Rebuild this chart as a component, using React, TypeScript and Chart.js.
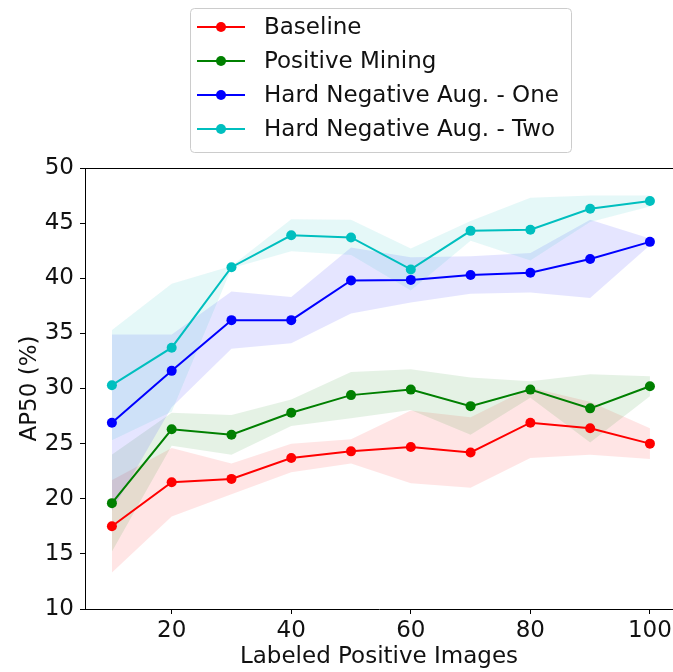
import React, { useEffect, useRef } from "react";
import { Chart, registerables } from "chart.js";

Chart.register(...registerables);

const X_VALUES = [10, 20, 30, 40, 50, 60, 70, 80, 90, 100];
const X_TICKS = [20, 40, 60, 80, 100];

const SERIES_NAMES = ["Baseline", "Positive Mining", "Hard Negative Aug. - One", "Hard Negative Aug. - Two"];
const SERIES_COLORS = ["#ff0000", "#008000", "#0000ff", "#00bfbf"];
const BAND_COLORS = ["rgba(255,0,0,0.1)", "rgba(0,128,0,0.1)", "rgba(0,0,255,0.1)", "rgba(0,191,191,0.1)"];

const baseline = [17.5, 21.5, 21.8, 23.7, 24.3, 24.7, 24.2, 26.9, 26.4, 25.0];
const baselineUpper = [21.7, 24.6, 23.2, 25.0, 25.4, 28.0, 27.4, 30.1, 28.8, 26.4];
const baselineLower = [13.3, 18.4, 20.4, 22.4, 23.2, 21.4, 21.0, 23.7, 24.0, 23.6];

const positiveMining = [19.6, 26.3, 25.8, 27.8, 29.4, 29.9, 28.4, 29.9, 28.2, 30.2];
const positiveUpper = [24.0, 27.8, 27.6, 29.0, 31.5, 31.75, 31.0, 30.65, 31.3, 31.1];
const positiveLower = [15.2, 24.8, 24.0, 26.6, 27.3, 28.05, 25.8, 29.15, 25.1, 29.3];

const hardOne = [26.9, 31.6, 36.2, 36.2, 39.8, 39.85, 40.3, 40.5, 41.75, 43.3];
const hardOneUpper = [34.9, 34.9, 38.8, 38.3, 42.8, 41.9, 42.0, 42.3, 45.3, 43.6];
const hardOneLower = [18.9, 28.3, 33.6, 34.1, 36.8, 37.8, 38.6, 38.7, 38.2, 43.0];

const hardTwo = [30.3, 33.7, 41.0, 43.9, 43.7, 40.8, 44.3, 44.4, 46.3, 47.0];
const hardTwoUpper = [35.3, 39.5, 41.1, 45.35, 45.3, 42.7, 45.2, 47.3, 47.5, 47.5];
const hardTwoLower = [25.3, 27.9, 40.9, 42.45, 42.1, 38.9, 43.4, 41.6, 45.1, 46.5];

const MEANS = [baseline, positiveMining, hardOne, hardTwo];
const UPPERS = [baselineUpper, positiveUpper, hardOneUpper, hardTwoUpper];
const LOWERS = [baselineLower, positiveLower, hardOneLower, hardTwoLower];

const FONT = "'DejaVu Sans', sans-serif";
const FONT_SIZE = 23;

const toPts = (arr: number[]) => arr.map((y, i) => ({ x: X_VALUES[i], y }));

const framePlugin = {
  id: "frameAndLegend",
  afterDraw(chart: any) {
    const { ctx, chartArea } = chart;
    ctx.save();
    // top spine
    ctx.strokeStyle = "#000";
    ctx.lineWidth = 1;
    ctx.beginPath();
    ctx.moveTo(chartArea.left, chartArea.top + 0.5);
    ctx.lineTo(chart.width, chartArea.top + 0.5);
    ctx.stroke();

    // legend
    const bx = 190, by = 8, bw = 381, bh = 144;
    ctx.beginPath();
    ctx.roundRect(bx + 0.5, by + 0.5, bw, bh, 4);
    ctx.fillStyle = "rgba(255,255,255,0.8)";
    ctx.fill();
    ctx.strokeStyle = "#cccccc";
    ctx.lineWidth = 1;
    ctx.stroke();
    ctx.font = `${FONT_SIZE}px ${FONT}`;
    ctx.textBaseline = "middle";
    ctx.textAlign = "left";
    SERIES_NAMES.forEach((name, i) => {
      const y = 27 + 34 * i;
      ctx.strokeStyle = SERIES_COLORS[i];
      ctx.lineWidth = 2;
      ctx.beginPath();
      ctx.moveTo(197, y);
      ctx.lineTo(245, y);
      ctx.stroke();
      ctx.fillStyle = SERIES_COLORS[i];
      ctx.beginPath();
      ctx.arc(221, y, 5, 0, Math.PI * 2);
      ctx.fill();
      ctx.fillStyle = "#111";
      ctx.fillText(name, 264, y + 1);
    });
    ctx.restore();
  },
};

export default function App() {
  const canvasRef = useRef<HTMLCanvasElement | null>(null);

  useEffect(() => {
    document.body.style.margin = "0";
    const canvas = canvasRef.current;
    if (!canvas) return;

    const datasets: any[] = [];
    MEANS.forEach((mean, i) => {
      datasets.push({
        label: SERIES_NAMES[i] + " upper",
        data: toPts(UPPERS[i]),
        borderWidth: 0,
        borderColor: "transparent",
        pointRadius: 0,
        backgroundColor: BAND_COLORS[i],
        fill: "+1",
        order: 20 + (3 - i) * 2,
      });
      datasets.push({
        label: SERIES_NAMES[i] + " lower",
        data: toPts(LOWERS[i]),
        borderWidth: 0,
        borderColor: "transparent",
        pointRadius: 0,
        fill: false,
        order: 21 + (3 - i) * 2,
      });
    });
    MEANS.forEach((mean, i) => {
      datasets.push({
        label: SERIES_NAMES[i],
        data: toPts(mean),
        borderColor: SERIES_COLORS[i],
        backgroundColor: SERIES_COLORS[i],
        borderWidth: 2,
        pointRadius: 5,
        pointBorderWidth: 0,
        pointBackgroundColor: SERIES_COLORS[i],
        fill: false,
        tension: 0,
        order: 3 - i,
      });
    });

    const chart = new Chart(canvas, {
      type: "line",
      data: { datasets },
      options: {
        animation: false,
        responsive: false,
        devicePixelRatio: 1,
        layout: { autoPadding: false, padding: { top: 168, right: 0, bottom: 0, left: 0 } },
        plugins: {
          legend: { display: false },
          tooltip: { enabled: false },
        },
        scales: {
          x: {
            type: "linear",
            min: 5.5,
            max: 103.86,
            afterBuildTicks: (scale: any) => {
              scale.ticks = X_TICKS.map((v) => ({ value: v }));
            },
            afterFit: (scale: any) => {
              scale.height = 63;
              scale.paddingLeft = 0;
              scale.paddingRight = 0;
            },
            grid: {
              drawOnChartArea: false,
              drawTicks: true,
              tickLength: 5,
              tickColor: "#000",
              tickWidth: 1,
            },
            border: { display: true, color: "#000", width: 1 },
            ticks: {
              color: "#111",
              font: { family: FONT, size: FONT_SIZE },
              padding: 3,
              maxRotation: 0,
              autoSkip: false,
            },
            title: {
              display: true,
              text: "Labeled Positive Images",
              color: "#111",
              font: { family: FONT, size: FONT_SIZE },
              padding: { top: 0, bottom: 1 },
            },
          },
          y: {
            type: "linear",
            min: 10,
            max: 50,
            afterFit: (scale: any) => {
              scale.width = 85;
              scale.paddingTop = 0;
              scale.paddingBottom = 0;
            },
            grid: {
              drawOnChartArea: false,
              drawTicks: true,
              tickLength: 5,
              tickColor: "#000",
              tickWidth: 1,
            },
            border: { display: true, color: "#000", width: 1 },
            ticks: {
              stepSize: 5,
              color: "#111",
              font: { family: FONT, size: FONT_SIZE },
              padding: 6,
            },
            title: {
              display: true,
              text: "AP50 (%)",
              color: "#111",
              font: { family: FONT, size: FONT_SIZE },
              padding: { top: 16, bottom: 0 },
            },
          },
        },
      },
      plugins: [framePlugin],
    } as any);

    return () => {
      chart.destroy();
    };
  }, []);

  return (
    <div style={{ width: 673, height: 672 }}>
      <canvas ref={canvasRef} width={673} height={672} style={{ display: "block", width: 673, height: 672 }} />
    </div>
  );
}
